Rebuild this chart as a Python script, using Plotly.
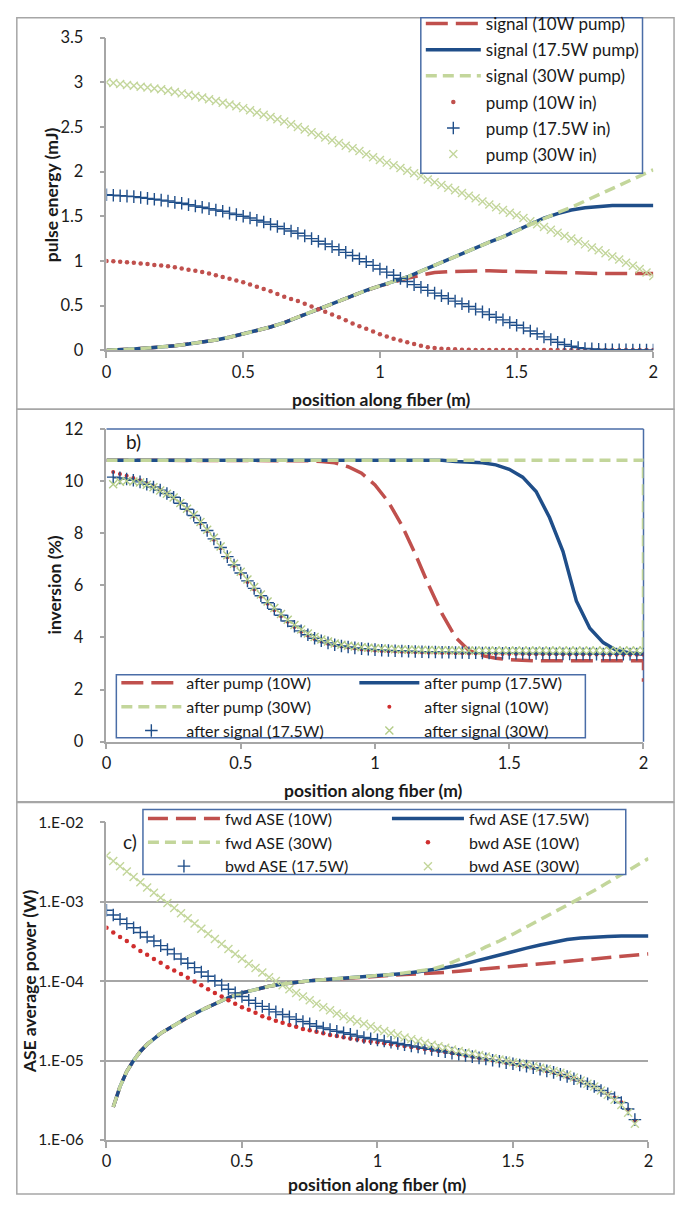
import plotly.graph_objects as go

W, H = 682, 1205
FONT = "Lato, 'Open Sans', sans-serif"
TXT = "#1a1a1a"

# ---------------- data ----------------
X_M = [0, 0.025, 0.05, 0.075, 0.1, 0.125, 0.15, 0.175, 0.2, 0.225,
       0.25, 0.275, 0.3, 0.325, 0.35, 0.375, 0.4, 0.425, 0.45, 0.475,
       0.5, 0.525, 0.55, 0.575, 0.6, 0.625, 0.65, 0.675, 0.7, 0.725,
       0.75, 0.775, 0.8, 0.825, 0.85, 0.875, 0.9, 0.925, 0.95, 0.975,
       1.0, 1.025, 1.05, 1.075, 1.1, 1.125, 1.15, 1.175, 1.2, 1.225,
       1.25, 1.275, 1.3, 1.325, 1.35, 1.375, 1.4, 1.425, 1.45, 1.475,
       1.5, 1.525, 1.55, 1.575, 1.6, 1.625, 1.65, 1.675, 1.7, 1.725,
       1.75, 1.775, 1.8, 1.825, 1.85, 1.875, 1.9, 1.925, 1.95, 1.975,
       2.0]
X_L = [0, 0.05, 0.1, 0.15, 0.2, 0.25, 0.3, 0.35, 0.4, 0.45,
       0.5, 0.55, 0.6, 0.65, 0.7, 0.75, 0.8, 0.85, 0.9, 0.95,
       1.0, 1.05, 1.1, 1.15, 1.2, 1.25, 1.3, 1.35, 1.4, 1.45,
       1.5, 1.55, 1.6, 1.65, 1.7, 1.75, 1.8, 1.85, 1.9, 1.95, 2.0]
X_L2 = [0, 0.05, 0.1, 0.15, 0.2, 0.25, 0.3, 0.35, 0.4, 0.45,
        0.5, 0.55, 0.6, 0.65, 0.7, 0.75, 0.8, 0.85, 0.9, 0.95,
        1.0, 1.05, 1.1, 1.15, 1.2, 1.25, 1.3, 1.35, 1.4, 1.45,
        1.5, 1.55, 1.6, 1.65, 1.7, 1.75, 1.8, 1.85, 1.9, 1.95, 2.0, 2.0]
X_S = X_M[1:]     # after-signal markers (0.025 .. 2.0)
X_B = X_M[:79]    # backward ASE markers (0 .. 1.95)
X_F = [0.025, 0.05, 0.075, 0.1, 0.125, 0.15, 0.2, 0.25, 0.3, 0.35,
       0.4, 0.45, 0.5, 0.55, 0.6, 0.65, 0.7, 0.75, 0.8, 0.85,
       0.9, 0.95, 1.0, 1.05, 1.1, 1.15, 1.2, 1.25, 1.3, 1.35,
       1.4, 1.45, 1.5, 1.55, 1.6, 1.65, 1.7, 1.75, 1.8, 1.85,
       1.9, 1.95, 2.0]

# panel a) pulse energy (mJ)
SIG_10W = [0.0, 0.005, 0.015, 0.025, 0.035, 0.05, 0.07, 0.09, 0.115, 0.145,
           0.18, 0.22, 0.26, 0.31, 0.37, 0.43, 0.49, 0.555, 0.615, 0.67,
           0.72, 0.765, 0.805, 0.84, 0.87, 0.88, 0.885, 0.89, 0.89, 0.885,
           0.88, 0.88, 0.875, 0.87, 0.87, 0.865, 0.86, 0.86, 0.86, 0.86, 0.86]
SIG_17W = [0.0, 0.005, 0.015, 0.025, 0.035, 0.05, 0.07, 0.09, 0.115, 0.145,
           0.18, 0.22, 0.26, 0.31, 0.37, 0.43, 0.49, 0.555, 0.615, 0.67,
           0.72, 0.77, 0.82, 0.885, 0.95, 1.02, 1.09, 1.15, 1.21, 1.27,
           1.34, 1.41, 1.48, 1.53, 1.57, 1.595, 1.61, 1.62, 1.62, 1.62, 1.62]
SIG_30W = [0.0, 0.005, 0.015, 0.025, 0.035, 0.05, 0.07, 0.09, 0.115, 0.145,
           0.18, 0.22, 0.26, 0.31, 0.37, 0.43, 0.49, 0.555, 0.615, 0.67,
           0.72, 0.77, 0.82, 0.885, 0.95, 1.02, 1.09, 1.15, 1.21, 1.27,
           1.34, 1.41, 1.48, 1.54, 1.60, 1.67, 1.74, 1.81, 1.88, 1.95, 2.02]
PUMP_10W = [1.00, 0.995, 0.99, 0.985, 0.98, 0.97, 0.965, 0.955, 0.95, 0.94,
            0.93, 0.915, 0.90, 0.89, 0.875, 0.86, 0.84, 0.82, 0.80, 0.78,
            0.76, 0.735, 0.71, 0.685, 0.66, 0.63, 0.60, 0.575, 0.55, 0.52,
            0.49, 0.46, 0.43, 0.40, 0.37, 0.335, 0.30, 0.27, 0.24, 0.21,
            0.18, 0.155, 0.13, 0.11, 0.09, 0.07, 0.05, 0.035, 0.025, 0.018,
            0.013, 0.01, 0.007, 0.005, 0.004, 0.003, 0.002, 0.002, 0.002, 0.002,
            0.002, 0.002, 0.002, 0.002, 0.002, 0.002, 0.002, 0.002, 0.002, 0.002,
            0.002, 0.002, 0.002, 0.002, 0.002, 0.002, 0.002, 0.002, 0.002, 0.002,
            0.002]
PUMP_17W = [1.74, 1.735, 1.73, 1.725, 1.72, 1.71, 1.70, 1.69, 1.68, 1.67,
            1.655, 1.645, 1.63, 1.615, 1.60, 1.585, 1.57, 1.555, 1.535, 1.52,
            1.50, 1.48, 1.455, 1.435, 1.41, 1.385, 1.36, 1.335, 1.31, 1.28,
            1.25, 1.22, 1.19, 1.16, 1.125, 1.095, 1.06, 1.025, 0.99, 0.95,
            0.91, 0.875, 0.84, 0.805, 0.77, 0.735, 0.705, 0.67, 0.64, 0.61,
            0.58, 0.55, 0.52, 0.49, 0.46, 0.43, 0.40, 0.37, 0.34, 0.31,
            0.28, 0.25, 0.215, 0.185, 0.15, 0.12, 0.09, 0.065, 0.045, 0.03,
            0.02, 0.015, 0.01, 0.008, 0.006, 0.005, 0.004, 0.003, 0.003, 0.002,
            0.002]
PUMP_30W = [3.00, 2.99, 2.98, 2.97, 2.96, 2.95, 2.94, 2.93, 2.92, 2.905,
            2.89, 2.875, 2.86, 2.845, 2.83, 2.81, 2.79, 2.77, 2.75, 2.73,
            2.71, 2.685, 2.66, 2.635, 2.61, 2.585, 2.56, 2.53, 2.50, 2.47,
            2.44, 2.41, 2.38, 2.35, 2.32, 2.29, 2.26, 2.23, 2.195, 2.16,
            2.13, 2.10, 2.07, 2.04, 2.01, 1.98, 1.95, 1.91, 1.88, 1.85,
            1.82, 1.79, 1.76, 1.73, 1.70, 1.665, 1.63, 1.60, 1.57, 1.54,
            1.51, 1.48, 1.445, 1.41, 1.38, 1.35, 1.315, 1.28, 1.25, 1.22,
            1.185, 1.15, 1.12, 1.085, 1.05, 1.015, 0.98, 0.945, 0.91, 0.87,
            0.83]

# panel b) inversion (%)
AP_10W = [10.8, 10.8, 10.8, 10.8, 10.8, 10.8, 10.8, 10.8, 10.8, 10.8,
          10.8, 10.8, 10.8, 10.8, 10.8, 10.78, 10.75, 10.7, 10.55, 10.3,
          9.85, 9.2, 8.3, 7.2, 6.0, 4.9, 4.0, 3.5, 3.3, 3.2,
          3.15, 3.12, 3.1, 3.1, 3.1, 3.1, 3.1, 3.1, 3.1, 3.1, 3.1, 2.3]
AP_17W = [10.8, 10.8, 10.8, 10.8, 10.8, 10.8, 10.8, 10.8, 10.8, 10.8,
          10.8, 10.8, 10.8, 10.8, 10.8, 10.8, 10.8, 10.8, 10.8, 10.8,
          10.8, 10.8, 10.8, 10.8, 10.8, 10.8, 10.75, 10.72, 10.7, 10.62,
          10.45, 10.15, 9.6, 8.6, 7.3, 5.4, 4.35, 3.8, 3.5, 3.4, 3.35, 3.35]
AP_30W = [10.8, 10.8, 10.8, 10.8, 10.8, 10.8, 10.8, 10.8, 10.8, 10.8,
          10.8, 10.8, 10.8, 10.8, 10.8, 10.8, 10.8, 10.8, 10.8, 10.8,
          10.8, 10.8, 10.8, 10.8, 10.8, 10.8, 10.8, 10.8, 10.8, 10.8,
          10.8, 10.8, 10.8, 10.8, 10.8, 10.8, 10.8, 10.8, 10.8, 10.8, 10.8, 3.45]
AS_10W = [10.35, 10.27, 10.2, 10.12, 10.03, 9.92, 9.8, 9.66, 9.52, 9.36,
          9.14, 8.9, 8.65, 8.37, 8.07, 7.75, 7.42, 7.08, 6.75, 6.44,
          6.13, 5.84, 5.56, 5.29, 5.04, 4.81, 4.6, 4.4, 4.22, 4.07,
          3.94, 3.84, 3.76, 3.7, 3.65, 3.61, 3.57, 3.54, 3.52, 3.5,
          3.48, 3.47, 3.46, 3.45, 3.44, 3.43, 3.42, 3.41, 3.41, 3.4,
          3.4, 3.39, 3.39, 3.38, 3.38, 3.37, 3.37, 3.37, 3.36, 3.36,
          3.36, 3.36, 3.35, 3.35, 3.35, 3.35, 3.35, 3.34, 3.34, 3.34,
          3.34, 3.34, 3.34, 3.33, 3.33, 3.33, 3.33, 3.33, 3.33, 3.33]
AS_17W = [10.15, 10.12, 10.08, 10.03, 9.97, 9.88, 9.77, 9.65, 9.52, 9.38,
          9.15, 8.92, 8.68, 8.4, 8.1, 7.78, 7.45, 7.1, 6.78, 6.47,
          6.17, 5.88, 5.6, 5.33, 5.08, 4.85, 4.63, 4.43, 4.25, 4.1,
          3.97, 3.87, 3.79, 3.72, 3.67, 3.63, 3.6, 3.57, 3.55, 3.53,
          3.51, 3.5, 3.49, 3.48, 3.47, 3.46, 3.45, 3.44, 3.44, 3.43,
          3.43, 3.42, 3.42, 3.41, 3.41, 3.40, 3.40, 3.39, 3.39, 3.39,
          3.39, 3.38, 3.38, 3.38, 3.38, 3.38, 3.37, 3.37, 3.37, 3.37,
          3.37, 3.37, 3.36, 3.36, 3.36, 3.36, 3.36, 3.36, 3.36, 3.36]
AS_30W = [9.88, 9.97, 10.0, 9.98, 9.94, 9.86, 9.76, 9.64, 9.51, 9.37,
          9.16, 8.94, 8.7, 8.43, 8.13, 7.82, 7.49, 7.15, 6.83, 6.52,
          6.22, 5.93, 5.65, 5.38, 5.13, 4.9, 4.68, 4.48, 4.3, 4.15,
          4.02, 3.92, 3.84, 3.77, 3.72, 3.68, 3.65, 3.62, 3.6, 3.58,
          3.57, 3.56, 3.55, 3.54, 3.53, 3.53, 3.52, 3.52, 3.51, 3.51,
          3.51, 3.5, 3.5, 3.5, 3.5, 3.5, 3.5, 3.5, 3.5, 3.5,
          3.5, 3.5, 3.5, 3.5, 3.5, 3.5, 3.5, 3.5, 3.5, 3.5,
          3.5, 3.5, 3.5, 3.5, 3.5, 3.5, 3.5, 3.5, 3.5, 3.5]

# panel c) ASE average power (W)
FWD_10W = [2.6e-6, 4.7e-6, 7.3e-6, 1.0e-5, 1.3e-5, 1.6e-5, 2.2e-5, 2.8e-5, 3.5e-5, 4.3e-5,
           5.2e-5, 6.2e-5, 7.1e-5, 7.9e-5, 8.6e-5, 9.2e-5, 9.7e-5, 1.01e-4, 1.04e-4, 1.07e-4,
           1.1e-4, 1.13e-4, 1.16e-4, 1.19e-4, 1.21e-4, 1.23e-4, 1.25e-4, 1.29e-4, 1.33e-4, 1.38e-4,
           1.43e-4, 1.48e-4, 1.54e-4, 1.6e-4, 1.66e-4, 1.72e-4, 1.78e-4, 1.84e-4, 1.9e-4, 1.97e-4,
           2.04e-4, 2.12e-4, 2.2e-4]
FWD_17W = [2.6e-6, 4.7e-6, 7.3e-6, 1.0e-5, 1.3e-5, 1.6e-5, 2.2e-5, 2.8e-5, 3.5e-5, 4.3e-5,
           5.2e-5, 6.2e-5, 7.1e-5, 7.9e-5, 8.6e-5, 9.2e-5, 9.7e-5, 1.01e-4, 1.04e-4, 1.07e-4,
           1.1e-4, 1.13e-4, 1.16e-4, 1.2e-4, 1.25e-4, 1.31e-4, 1.38e-4, 1.47e-4, 1.58e-4, 1.75e-4,
           1.95e-4, 2.15e-4, 2.35e-4, 2.6e-4, 2.85e-4, 3.1e-4, 3.35e-4, 3.5e-4, 3.6e-4, 3.65e-4,
           3.7e-4, 3.7e-4, 3.7e-4]
FWD_30W = [2.6e-6, 4.7e-6, 7.3e-6, 1.0e-5, 1.3e-5, 1.6e-5, 2.2e-5, 2.8e-5, 3.5e-5, 4.3e-5,
           5.2e-5, 6.2e-5, 7.1e-5, 7.9e-5, 8.6e-5, 9.2e-5, 9.7e-5, 1.01e-4, 1.04e-4, 1.07e-4,
           1.1e-4, 1.13e-4, 1.16e-4, 1.21e-4, 1.27e-4, 1.34e-4, 1.41e-4, 1.58e-4, 1.86e-4, 2.2e-4,
           2.7e-4, 3.2e-4, 3.9e-4, 4.8e-4, 5.9e-4, 7.2e-4, 9.1e-4, 1.12e-3, 1.38e-3, 1.74e-3,
           2.2e-3, 2.75e-3, 3.5e-3]
BWD_10W = [4.7e-4, 4.1e-4, 3.6e-4, 3.2e-4, 2.75e-4, 2.4e-4, 2.15e-4, 1.9e-4, 1.7e-4, 1.5e-4,
           1.36e-4, 1.23e-4, 1.1e-4, 9.9e-5, 8.9e-5, 7.9e-5, 7.1e-5, 6.4e-5, 5.75e-5, 5.2e-5,
           4.7e-5, 4.35e-5, 4.0e-5, 3.6e-5, 3.4e-5, 3.16e-5, 3.0e-5, 2.8e-5, 2.66e-5, 2.5e-5,
           2.4e-5, 2.3e-5, 2.2e-5, 2.1e-5, 2.04e-5, 1.97e-5, 1.9e-5, 1.84e-5, 1.78e-5, 1.74e-5,
           1.7e-5, 1.65e-5, 1.6e-5, 1.56e-5, 1.52e-5, 1.48e-5, 1.44e-5, 1.4e-5, 1.36e-5, 1.32e-5,
           1.28e-5, 1.24e-5, 1.2e-5, 1.16e-5, 1.12e-5, 1.08e-5, 1.05e-5, 1.01e-5, 9.8e-6, 9.4e-6,
           9.1e-6, 8.8e-6, 8.5e-6, 8.1e-6, 7.8e-6, 7.4e-6, 7.1e-6, 6.7e-6, 6.3e-6, 5.9e-6,
           5.5e-6, 5.1e-6, 4.7e-6, 4.2e-6, 3.8e-6, 3.4e-6, 2.95e-6, 2.4e-6, 1.75e-6]
BWD_17W = [7.8e-4, 6.8e-4, 6.0e-4, 5.3e-4, 4.7e-4, 4.1e-4, 3.6e-4, 3.2e-4, 2.8e-4, 2.5e-4,
           2.2e-4, 1.9e-4, 1.68e-4, 1.48e-4, 1.3e-4, 1.15e-4, 1.01e-4, 8.9e-5, 7.9e-5, 7.1e-5,
           6.4e-5, 5.75e-5, 5.25e-5, 4.8e-5, 4.4e-5, 4.1e-5, 3.8e-5, 3.55e-5, 3.3e-5, 3.1e-5,
           2.9e-5, 2.7e-5, 2.57e-5, 2.45e-5, 2.34e-5, 2.24e-5, 2.14e-5, 2.04e-5, 1.95e-5, 1.88e-5,
           1.82e-5, 1.76e-5, 1.7e-5, 1.64e-5, 1.58e-5, 1.53e-5, 1.48e-5, 1.43e-5, 1.38e-5, 1.33e-5,
           1.29e-5, 1.24e-5, 1.2e-5, 1.16e-5, 1.12e-5, 1.08e-5, 1.05e-5, 1.01e-5, 9.8e-6, 9.4e-6,
           9.1e-6, 8.8e-6, 8.5e-6, 8.1e-6, 7.8e-6, 7.4e-6, 7.1e-6, 6.7e-6, 6.3e-6, 5.9e-6,
           5.5e-6, 5.1e-6, 4.7e-6, 4.2e-6, 3.8e-6, 3.4e-6, 2.95e-6, 2.45e-6, 1.8e-6]
BWD_30W = [3.8e-3, 3.26e-3, 2.8e-3, 2.4e-3, 2.04e-3, 1.76e-3, 1.51e-3, 1.3e-3, 1.12e-3, 9.66e-4,
           8.32e-4, 7.16e-4, 6.17e-4, 5.31e-4, 4.57e-4, 3.94e-4, 3.39e-4, 2.93e-4, 2.54e-4, 2.2e-4,
           1.91e-4, 1.66e-4, 1.46e-4, 1.28e-4, 1.12e-4, 1.0e-4, 8.9e-5, 7.9e-5, 7.1e-5, 6.4e-5,
           5.75e-5, 5.2e-5, 4.7e-5, 4.3e-5, 3.9e-5, 3.6e-5, 3.3e-5, 3.1e-5, 2.9e-5, 2.7e-5,
           2.5e-5, 2.35e-5, 2.2e-5, 2.1e-5, 1.95e-5, 1.86e-5, 1.76e-5, 1.66e-5, 1.58e-5, 1.51e-5,
           1.45e-5, 1.38e-5, 1.32e-5, 1.26e-5, 1.22e-5, 1.17e-5, 1.12e-5, 1.07e-5, 1.03e-5, 1.0e-5,
           9.5e-6, 9.2e-6, 8.9e-6, 8.5e-6, 8.1e-6, 7.8e-6, 7.4e-6, 7.0e-6, 6.6e-6, 6.1e-6,
           5.6e-6, 5.1e-6, 4.7e-6, 4.2e-6, 3.7e-6, 3.2e-6, 2.75e-6, 2.2e-6, 1.6e-6]

X_TICKS = [0, 0.5, 1, 1.5, 2]
X_TICKTEXT = ["0", "0.5", "1", "1.5", "2"]
YA_TICKS = [0, 0.5, 1, 1.5, 2, 2.5, 3, 3.5]
YA_TICKTEXT = ["0", "0.5", "1", "1.5", "2", "2.5", "3", "3.5"]
YB_TICKS = [0, 2, 4, 6, 8, 10, 12]
YC_TICKS = [1e-6, 1e-5, 1e-4, 1e-3, 1e-2]
YC_TICKTEXT = ["1.E-06", "1.E-05", "1.E-04", "1.E-03", "1.E-02"]

LEG_A = ["signal (10W pump)", "signal (17.5W pump)", "signal (30W pump)",
         "pump (10W in)", "pump (17.5W in)", "pump (30W in)"]
LEG_B = ["after pump (10W)", "after pump (17.5W)", "after pump (30W)",
         "after signal (10W)", "after signal (17.5W)", "after signal (30W)"]
LEG_C = ["fwd ASE (10W)", "fwd ASE (17.5W)", "fwd ASE (30W)",
         "bwd ASE (10W)", "bwd ASE (17.5W)", "bwd ASE (30W)"]

# ---------------- styles ----------------
RED = "#C0504D"
RED_DOT = "#CF2E2E"
BLUE = "#1F4E89"
GREEN = "#C3D69B"
GREEN_X = "#B3CC88"
AXC = "#A6A6A6"
LEGB = "#4A6DA7"


def px(x):
    return x / W


def py(y):
    return 1 - y / H


fig = go.Figure()


def line(x, y, name, color, dash, xa, ya, leg, group=None, width=3.5):
    fig.add_trace(go.Scatter(x=x, y=y, name=name, mode="lines",
                             line=dict(color=color, width=width, dash=dash),
                             xaxis=xa, yaxis=ya, legend=leg, legendgroup=group))


def marks(x, y, name, color, symbol, size, xa, ya, leg, group=None, lw=1.4):
    m = dict(color=color, symbol=symbol, size=size)
    if "thin" in symbol:
        m["line"] = dict(color=color, width=lw)
    fig.add_trace(go.Scatter(x=x, y=y, name=name, mode="markers", marker=m,
                             xaxis=xa, yaxis=ya, legend=leg, legendgroup=group))


# panel a
line(X_L, SIG_10W, LEG_A[0], RED, "22px,8px", "x", "y", "legend", "a1")
line(X_L, SIG_17W, LEG_A[1], BLUE, "solid", "x", "y", "legend", "a2")
line(X_L, SIG_30W, LEG_A[2], GREEN, "11px,6px", "x", "y", "legend", "a3")
marks(X_M, PUMP_10W, LEG_A[3], RED, "circle", 4.5, "x", "y", "legend", "a4")
marks(X_M, PUMP_17W, LEG_A[4], BLUE, "cross-thin", 9, "x", "y", "legend", "a5")
marks(X_M, PUMP_30W, LEG_A[5], GREEN, "x-thin", 8, "x", "y", "legend", "a6")

# panel b
line(X_L2, AP_10W, LEG_B[0], RED, "22px,8px", "x2", "y2", "legend2")
line(X_L2, AP_17W, LEG_B[1], BLUE, "solid", "x2", "y2", "legend2")
line(X_L2, AP_30W, LEG_B[2], GREEN, "11px,6px", "x2", "y2", "legend2")
marks(X_S, AS_10W, LEG_B[3], RED_DOT, "circle", 4, "x2", "y2", "legend2")
marks(X_S, AS_17W, LEG_B[4], BLUE, "cross-thin", 9, "x2", "y2", "legend2")
marks(X_S, AS_30W, LEG_B[5], GREEN_X, "x-thin", 8, "x2", "y2", "legend2")

# panel c
line(X_F, FWD_10W, LEG_C[0], RED, "20px,8px", "x3", "y3", "legend3")
line(X_F, FWD_17W, LEG_C[1], BLUE, "solid", "x3", "y3", "legend3")
line(X_F, FWD_30W, LEG_C[2], GREEN, "11px,6px", "x3", "y3", "legend3")
marks(X_B, BWD_10W, LEG_C[3], RED_DOT, "circle", 4.5, "x3", "y3", "legend3")
marks(X_B, BWD_17W, LEG_C[4], BLUE, "cross-thin", 9, "x3", "y3", "legend3")
marks(X_B, BWD_30W, LEG_C[5], GREEN, "x-thin", 8, "x3", "y3", "legend3")

tickfont = dict(family=FONT, size=16.5, color=TXT)


def xaxis(dom, anchor):
    return dict(domain=dom, anchor=anchor, range=[0, 2], tickvals=X_TICKS,
                ticktext=X_TICKTEXT, showline=True, linecolor=AXC, linewidth=1.5,
                ticks="outside", ticklen=6, tickwidth=1.5, tickcolor=AXC,
                showgrid=False, zeroline=False, tickfont=tickfont)


def yaxis(dom, anchor, **kw):
    d = dict(domain=dom, anchor=anchor, showline=True, linecolor=AXC, linewidth=1.5,
             ticks="outside", ticklen=5, tickwidth=1.5, tickcolor=AXC,
             showgrid=False, zeroline=False, tickfont=tickfont, ticklabelstandoff=13)
    d.update(kw)
    return d


NOBOX = dict(bgcolor="rgba(0,0,0,0)", borderwidth=0)

fig.update_layout(
    width=W, height=H, margin=dict(l=0, r=0, t=0, b=0),
    paper_bgcolor="white", plot_bgcolor="white", showlegend=True,
    xaxis=xaxis([px(103), px(658)], "y"),
    yaxis=yaxis([py(346), py(28)], "x", range=[0, 3.5], tickvals=YA_TICKS, ticktext=YA_TICKTEXT),
    xaxis2=xaxis([px(103), px(648)], "y2"),
    yaxis2=yaxis([py(744), py(426)], "x2", range=[0, 12], tickvals=YB_TICKS),
    xaxis3=xaxis([px(103), px(653)], "y3"),
    yaxis3=yaxis([py(1149), py(826)], "x3", type="log", range=[-6, -2],
                 tickvals=YC_TICKS, ticktext=YC_TICKTEXT, showgrid=True,
                 gridcolor=AXC, gridwidth=1.5,
                 tickfont=dict(family=FONT, size=15.5, color=TXT)),
    legend=dict(x=px(422), y=py(-4), xanchor="left", yanchor="top",
                font=dict(family=FONT, size=17, color=TXT), itemwidth=55,
                traceorder="grouped", tracegroupgap=1, **NOBOX),
    legend2=dict(x=px(113), y=py(667), xanchor="left", yanchor="top",
                 font=dict(family=FONT, size=16, color=TXT), itemwidth=60,
                 orientation="h", entrywidth=163, entrywidthmode="pixels",
                 traceorder="normal", tracegroupgap=0, **NOBOX),
    legend3=dict(x=px(140), y=py(805), xanchor="left", yanchor="top",
                 font=dict(family=FONT, size=16, color=TXT), itemwidth=72,
                 orientation="h", entrywidth=157, entrywidthmode="pixels",
                 traceorder="normal", tracegroupgap=0, **NOBOX),
)

shapes = []
# chart frames
for top, bot in [(8, 406), (406, 805), (806, 1204)]:
    shapes.append(dict(type="rect", xref="paper", yref="paper", x0=px(12), x1=px(679),
                       y0=py(bot), y1=py(top), line=dict(color=AXC, width=1.5), layer="below"))
# plot-area border of panel b (top and right edges)
shapes.append(dict(type="line", xref="x2 domain", yref="y2 domain", x0=0, x1=1, y0=1, y1=1,
                   line=dict(color=LEGB, width=1.5), layer="below"))
shapes.append(dict(type="line", xref="x2 domain", yref="y2 domain", x0=1, x1=1, y0=0, y1=1,
                   line=dict(color=LEGB, width=1.5), layer="below"))
# legend boxes
for x0, x1, y0, y1 in [(422, 647, 8, 166), (113, 589, 676, 740), (140, 630, 813, 879)]:
    shapes.append(dict(type="rect", xref="paper", yref="paper", x0=px(x0), x1=px(x1),
                       y0=py(y1), y1=py(y0), fillcolor="white",
                       line=dict(color=LEGB, width=1.5), layer="above"))
fig.update_layout(shapes=shapes)

tfont = dict(family=FONT, size=17.5, color=TXT)
ann = [
    ("<b>pulse energy (mJ)</b>", 48, 188, -90),
    ("<b>position along fiber (m)</b>", 382, 396, 0),
    ("<b>inversion (%)</b>", 50, 585, -90),
    ("<b>position along fiber (m)</b>", 374, 794, 0),
    ("<b>ASE average power (W)</b>", 25, 988, -90),
    ("<b>position along fiber (m)</b>", 378, 1194, 0),
]
for t, x, y, a in ann:
    fig.add_annotation(text=t, x=px(x), y=py(y), xref="paper", yref="paper",
                       showarrow=False, textangle=a, font=tfont,
                       xanchor="center", yanchor="middle")
for t, x, y in [("b)", 130, 439), ("c)", 127, 846)]:
    fig.add_annotation(text=t, x=px(x), y=py(y), xref="paper", yref="paper",
                       showarrow=False, font=dict(family=FONT, size=19, color=TXT),
                       xanchor="center", yanchor="middle")

fig.write_html("out.html")
